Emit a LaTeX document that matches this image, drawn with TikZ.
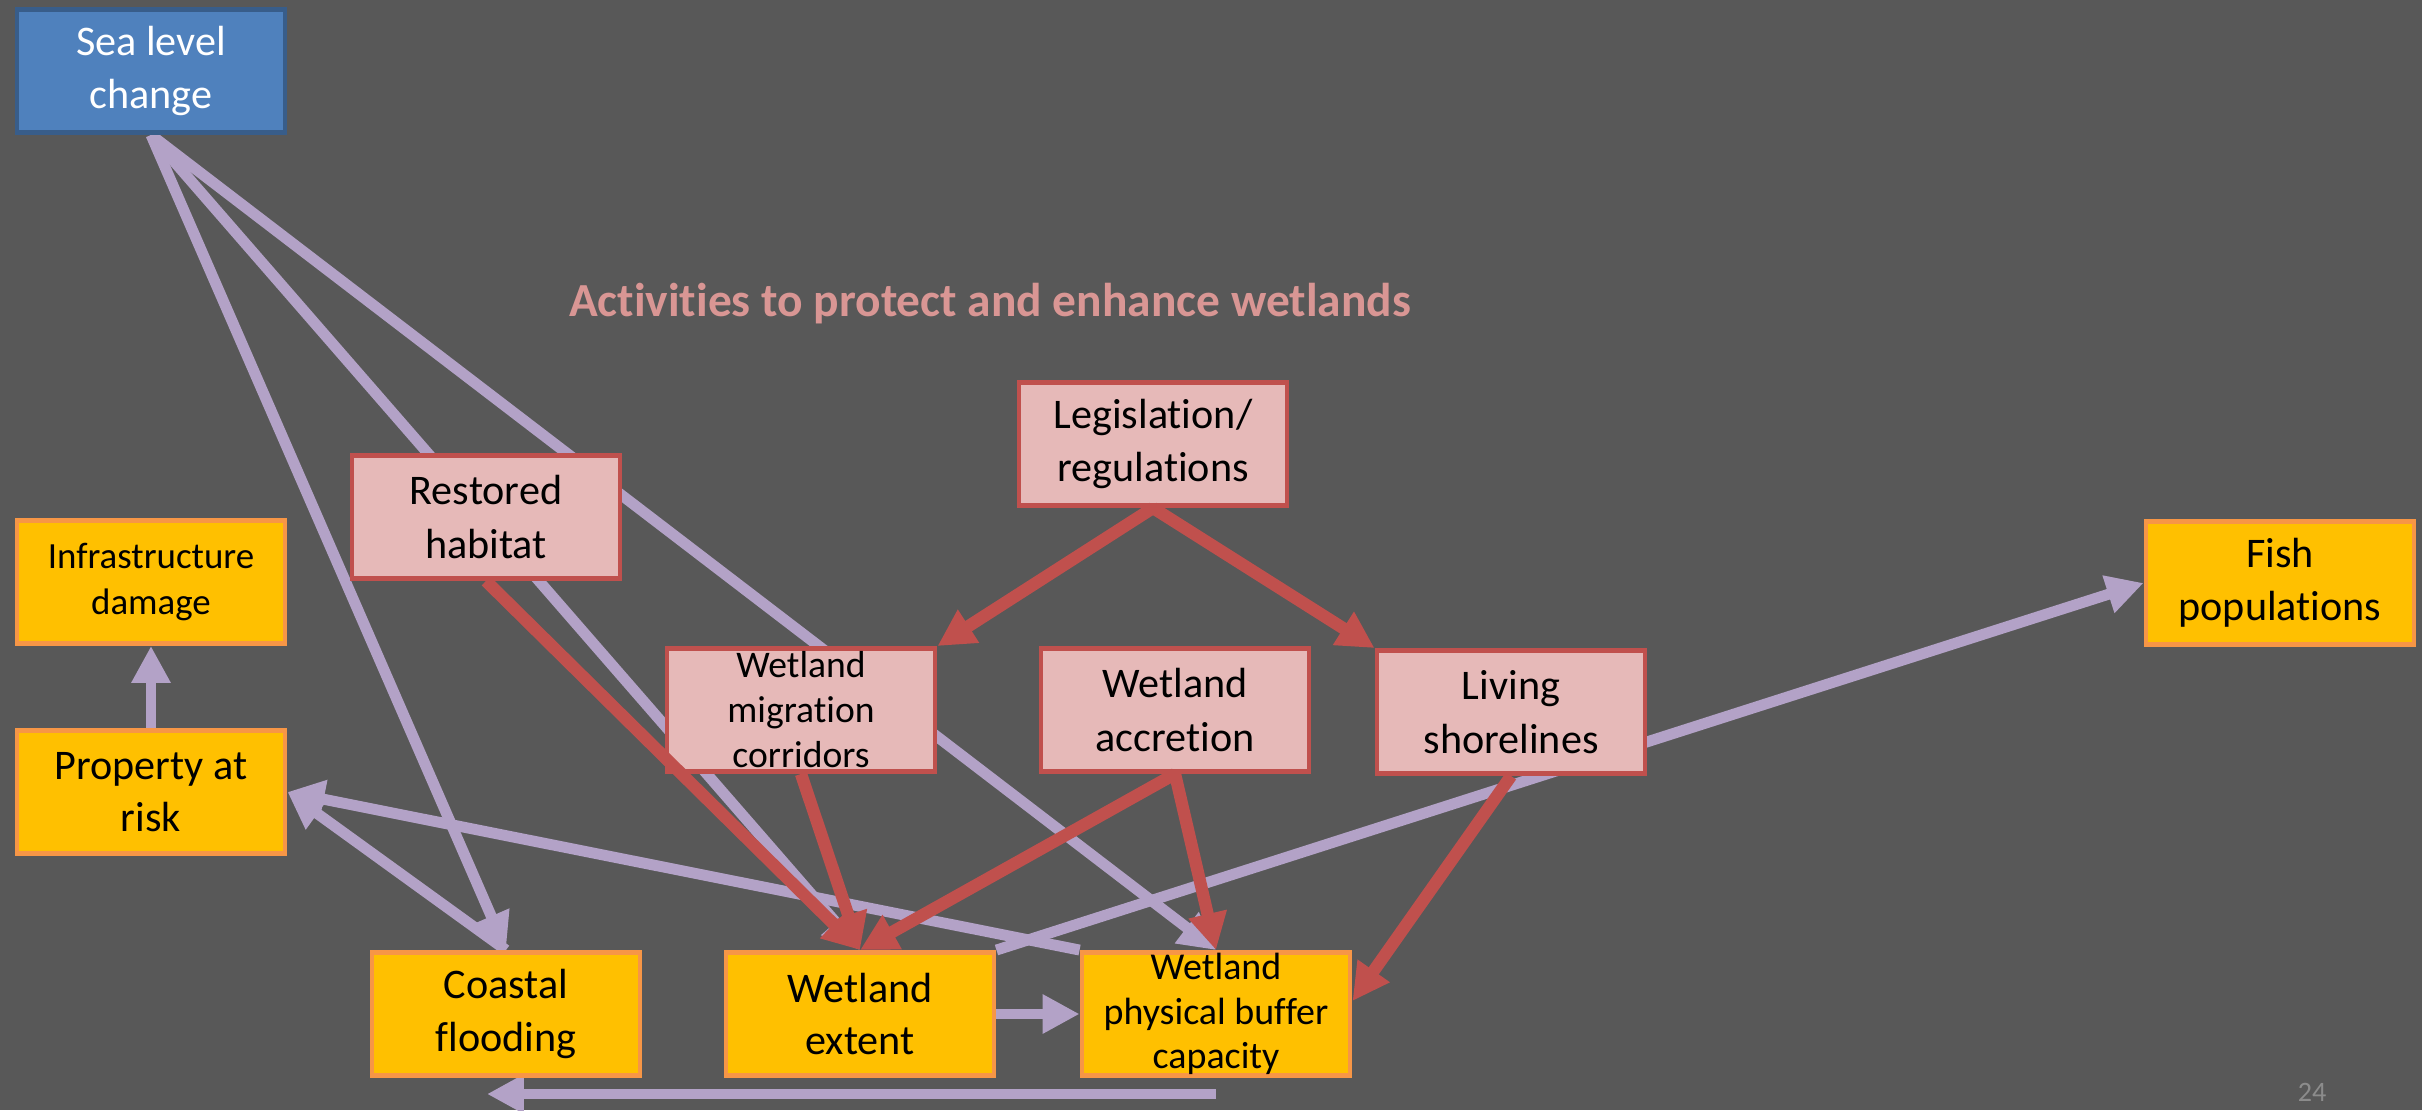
\documentclass[tikz,border=0pt]{standalone}
\usepackage{fontspec}
\setmainfont{Carlito}[Ligatures={NoCommon,NoRequired,NoContextual}, Contextuals=NoAlternate, RawFeature={-ccmp;-dlig;-locl}]
\usetikzlibrary{arrows.meta, positioning}
\definecolor{slidegray}{RGB}{88,88,88}
\definecolor{seablue}{RGB}{79,129,189}
\definecolor{seaedge}{RGB}{56,93,138}
\definecolor{outyellow}{RGB}{255,192,0}
\definecolor{outorange}{RGB}{247,150,70}
\definecolor{actpink}{RGB}{230,185,184}
\definecolor{actred}{RGB}{192,80,77}
\definecolor{linklav}{RGB}{179,162,199}
\definecolor{titlepink}{RGB}{217,150,148}
\definecolor{pagegray}{RGB}{140,140,140}
\pgfdeclarelayer{back}
\pgfdeclarelayer{links}
\pgfsetlayers{back,links,main}

\begin{document}
\begin{tikzpicture}[
  seabox/.style={draw=seaedge, fill=seablue, text=white, line width=1.4pt, minimum width=2.68cm, minimum height=1.23cm, align=center, font=\fontsize{12}{15}\selectfont, inner sep=0pt},
  outbox/.style={draw=outorange, fill=outyellow, line width=1.4pt, minimum width=2.68cm, minimum height=1.23cm, align=center, font=\fontsize{12}{15}\selectfont, inner sep=0pt},
  actbox/.style={draw=actred, fill=actpink, line width=1.4pt, minimum width=2.68cm, minimum height=1.23cm, align=center, font=\fontsize{12}{15.3}\selectfont, inner sep=0pt},
  lavarrow/.style={draw=linklav, line width=3.1pt, -{Triangle[length=10.5pt, width=10.5pt]}},
  redarrow/.style={draw=actred, line width=3.5pt, -{Triangle[length=10.5pt, width=10.5pt]}}
]
  \useasboundingbox (0,0) rectangle (24.22,11.10);
  \begin{pgfonlayer}{back}
    \fill[slidegray] (0,0) rectangle (24.22,11.10);
  \end{pgfonlayer}

  \node[seabox] (slc) at (1.51,10.39) {Sea level\\change};
  \node[font=\fontsize{13.5}{16}\selectfont\bfseries, text=titlepink] (title) at (9.90,8.06) {Activities to protect and enhance wetlands};

  \node[actbox] (legis) at (11.53,6.66) {Legislation/\\regulations};
  \node[actbox] (restored) at (4.86,5.93) {Restored\\habitat};
  \node[actbox, font=\fontsize{10.7}{12.8}\selectfont] (migr) at (8.01,4.00) {Wetland\\migration\\corridors};
  \node[actbox] (accr) at (11.75,4.00) {Wetland\\accretion};
  \node[actbox] (living) at (15.11,3.98) {Living\\shorelines};

  \node[outbox, font=\fontsize{10.5}{13}\selectfont] (infra) at (1.51,5.28) {Infrastructure\\damage};
  \node[outbox] (prop) at (1.51,3.18) {Property at\\risk};
  \node[outbox] (fish) at (22.80,5.27) {Fish\\populations};
  \node[outbox] (flood) at (5.06,0.96) {Coastal\\flooding};
  \node[outbox] (extent) at (8.60,0.96) {Wetland\\extent};
  \node[outbox, font=\fontsize{10.8}{12.6}\selectfont] (buffer) at (12.16,0.96) {Wetland\\physical buffer\\capacity};

  \node[font=\fontsize{8}{10}\selectfont, text=pagegray] (pagenum) at (23.12,0.18) {24};
  \coordinate (floodlow) at (4.87,0.16);

  % lavender links run behind the boxes
  \begin{pgfonlayer}{links}
    \draw[lavarrow] (slc.south) -- (flood.north);
    \draw[lavarrow] (slc.south) -- (extent.north);
    \draw[lavarrow] (slc.south) -- (buffer.north);
    \draw[lavarrow] (prop.north) -- (infra.south);
    \draw[lavarrow] (flood.north) -- (prop.east);
    \draw[lavarrow] (buffer.north west) -- (prop.east);
    \draw[lavarrow] (extent.north east) -- (fish.west);
    \draw[lavarrow] (extent.east) -- (buffer.west);
    \draw[lavarrow] (buffer.south |- floodlow) -- (floodlow);
  \end{pgfonlayer}

  \draw[redarrow] (legis.south) -- (migr.north east);
  \draw[redarrow] (legis.south) -- (living.north west);
  \draw[redarrow] (restored.south) -- (extent.north);
  \draw[redarrow] (migr.south) -- (extent.north);
  \draw[redarrow] (accr.south) -- (extent.north);
  \draw[redarrow] (accr.south) -- (buffer.north);
  \draw[redarrow] (living.south) -- ([yshift=1.3mm]buffer.east);
\end{tikzpicture}
\end{document}
